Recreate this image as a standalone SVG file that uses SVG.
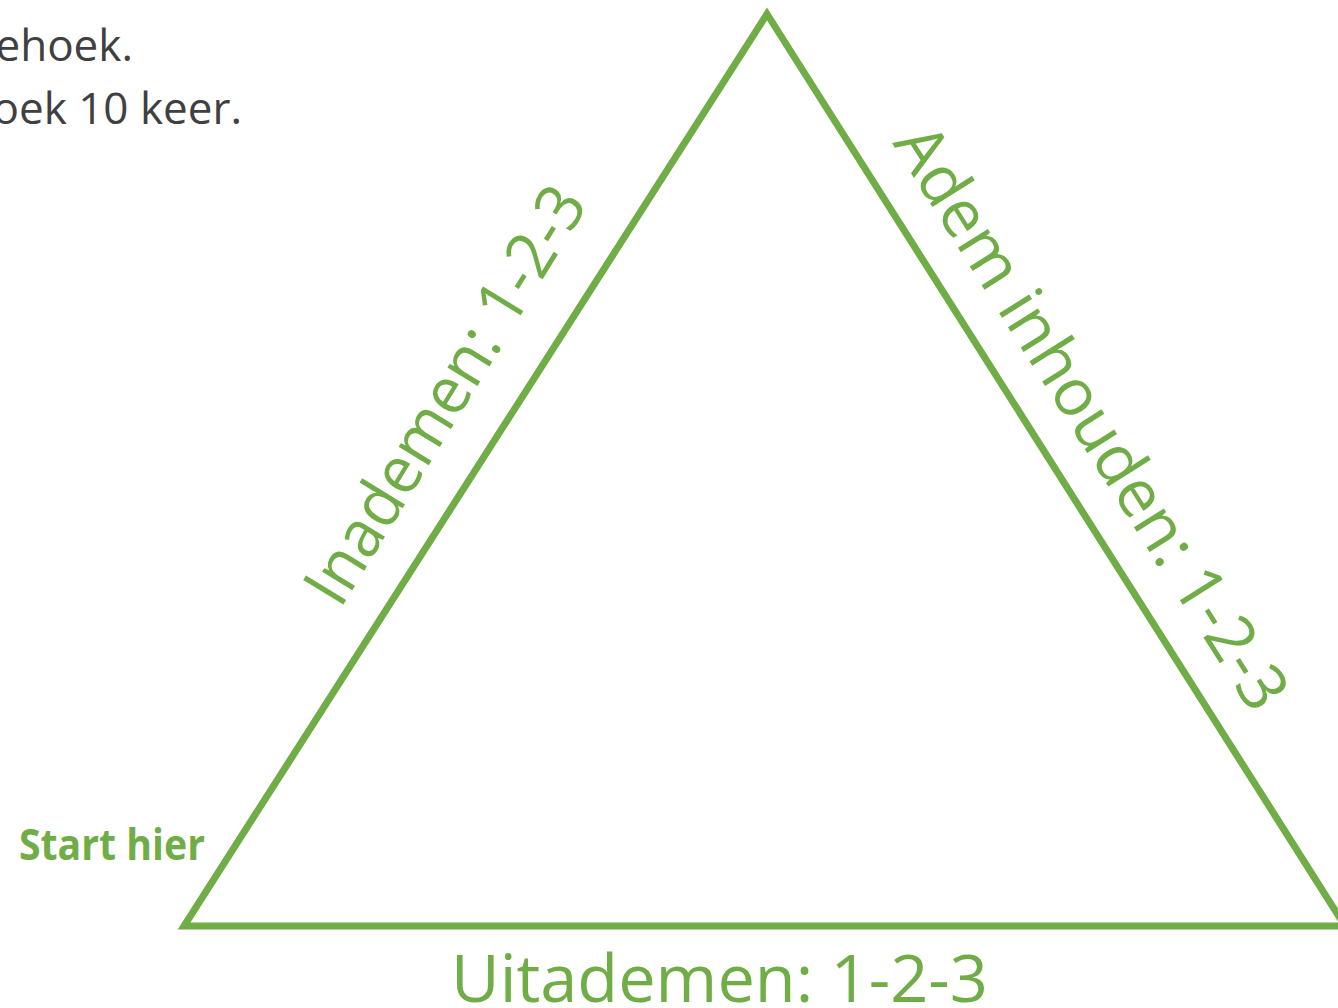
<svg xmlns="http://www.w3.org/2000/svg" width="1338" height="1008" viewBox="0 0 1338 1008">
  <style>
    .note { font-family: "Open Sans", "Liberation Sans", sans-serif; font-size: 44px; fill: #404040; }
    .lbl { font-family: "Open Sans", "Liberation Sans", sans-serif; font-size: 66px; fill: #70AD47; }
    .start { font-family: "Open Sans", "Liberation Sans", sans-serif; font-size: 43px; font-weight: bold; fill: #70AD47; }
    .tri { fill: none; stroke: #70AD47; stroke-width: 7; stroke-linejoin: miter; stroke-miterlimit: 10; }
  </style>
  <rect x="0" y="0" width="1338" height="1008" fill="#ffffff"/>

  <g id="instructions">
    <text class="note" x="133" y="61" text-anchor="end">ehoek.</text>
    <text class="note" x="242" y="124" text-anchor="end">oek 10 keer.</text>
  </g>

  <g id="triangle">
    <polygon class="tri" points="767,14 1345,926 184,926"/>
  </g>

  <g id="label-inademen">
    <text class="lbl" transform="translate(340.3,609.7) rotate(-58.5)" x="0" y="0" textLength="476" lengthAdjust="spacingAndGlyphs">Inademen: 1-2-3</text>
  </g>

  <g id="label-adem-inhouden">
    <text class="lbl" transform="translate(892,143) rotate(57.8)" x="0" y="0" textLength="677" lengthAdjust="spacingAndGlyphs">Adem inhouden: 1-2-3</text>
  </g>

  <g id="label-uitademen">
    <text class="lbl" x="451" y="1002" textLength="537" lengthAdjust="spacingAndGlyphs">Uitademen: 1-2-3</text>
  </g>

  <g id="start-hier">
    <text class="start" x="19" y="860" textLength="186" lengthAdjust="spacingAndGlyphs">Start hier</text>
  </g>
</svg>
